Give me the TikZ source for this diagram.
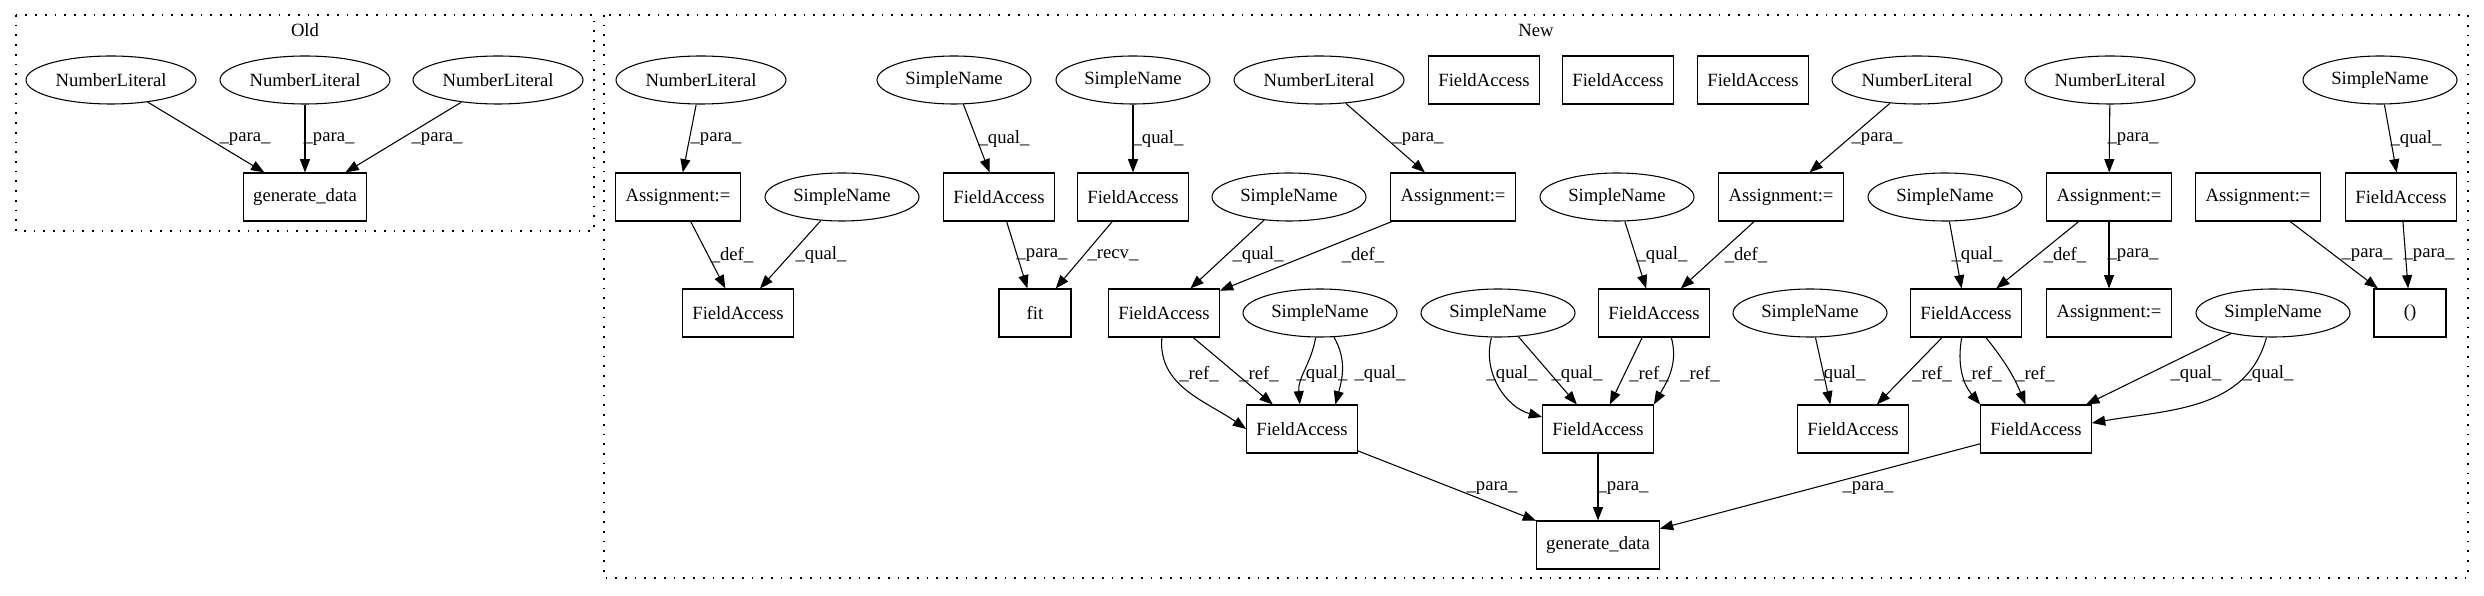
\documentclass[tikz,border=0pt]{standalone}
\usepackage{fontspec}
\setmainfont{Liberation Serif}
\usetikzlibrary{shapes.geometric,arrows.meta}

\begin{document}
\begin{tikzpicture}[x=0.75pt,y=0.75pt,
    font=\fontsize{14}{16}\selectfont,
    lit/.style={ellipse,draw,line width=0.8pt,minimum width=127.5pt,minimum height=36pt,inner sep=0pt},
    sname/.style={ellipse,draw,line width=0.8pt,minimum width=115.5pt,minimum height=36pt,inner sep=0pt},
    box/.style={rectangle,draw,line width=0.8pt,minimum height=36pt,inner sep=0pt},
    fa/.style={box,minimum width=83pt},
    asg/.style={box,minimum width=94pt},
    gen/.style={box,minimum width=92pt},
    small/.style={box,minimum width=54pt},
    lbl/.style={inner sep=0pt},
    arr/.style={-{Triangle[length=10pt,width=7.5pt]},line width=0.8pt},
    cluster/.style={line width=0.9pt,dash pattern=on 1.3pt off 6pt}]
    \useasboundingbox (0,0) rectangle (2484,596);

    % Clusters
    \draw[cluster] (16,581) rectangle (594,365);
    \node (oldTitle) at (305,566) {Old};
    \draw[cluster] (604,581) rectangle (2468,18);
    \node (newTitle) at (1536,566) {New};

    % Old
    \node[lit] (oLitA) at (111,516) {NumberLiteral};
    \node[lit] (oLitB) at (305,516) {NumberLiteral};
    \node[lit] (oLitC) at (498,516) {NumberLiteral};
    \node[gen] (oGen) at (305,399) {generate\_data};

    \draw[arr] (oLitA) -- (oGen) node[lbl] at (245,457) {\_para\_};
    \draw[arr] (oLitB) -- (oGen) node[lbl] at (329,457) {\_para\_};
    \draw[arr] (oLitC) -- (oGen) node[lbl] at (437,457) {\_para\_};

    % New - first row
    \node[lit] (litA) at (701,516) {NumberLiteral};
    \node[sname] (snA) at (954,516) {SimpleName};
    \node[sname] (snB) at (1133,516) {SimpleName};
    \node[lit] (litB) at (1319,516) {NumberLiteral};
    \node[fa] (faA1) at (1484,516) {FieldAccess};
    \node[fa] (faA2) at (1618,516) {FieldAccess};
    \node[fa] (faA3) at (1753,516) {FieldAccess};
    \node[lit] (litC) at (1917,516) {NumberLiteral};
    \node[lit] (litD) at (2110,516) {NumberLiteral};
    \node[sname] (snC) at (2380,516) {SimpleName};

    % second row
    \node[asg] (asgA) at (678,399) {Assignment:=};
    \node[sname] (snD) at (842,399) {SimpleName};
    \node[fa] (faB) at (999,399) {FieldAccess};
    \node[fa] (faC) at (1133,399) {FieldAccess};
    \node[sname] (snE) at (1289,399) {SimpleName};
    \node[asg] (asgB) at (1453,399) {Assignment:=};
    \node[sname] (snF) at (1617,399) {SimpleName};
    \node[asg] (asgC) at (1781,399) {Assignment:=};
    \node[sname] (snG) at (1945,399) {SimpleName};
    \node[asg] (asgD) at (2109,399) {Assignment:=};
    \node[asg] (asgE) at (2258,399) {Assignment:=};
    \node[fa] (faD) at (2401,399) {FieldAccess};

    % third row
    \node[fa] (faE) at (738,283) {FieldAccess};
    \node[small] (fit) at (1035,283) {fit};
    \node[fa] (faF) at (1164,283) {FieldAccess};
    \node[sname] (snH) at (1320,283) {SimpleName};
    \node[sname] (snI) at (1498,283) {SimpleName};
    \node[fa] (faG) at (1654,283) {FieldAccess};
    \node[sname] (snJ) at (1810,283) {SimpleName};
    \node[fa] (faH) at (1966,283) {FieldAccess};
    \node[asg] (asgF) at (2109,283) {Assignment:=};
    \node[sname] (snK) at (2273,283) {SimpleName};
    \node[small] (paren) at (2410,283) {()};

    % fourth and fifth row
    \node[fa] (faI) at (1302,167) {FieldAccess};
    \node[fa] (faJ) at (1598,167) {FieldAccess};
    \node[fa] (faK) at (1853,167) {FieldAccess};
    \node[fa] (faL) at (2036,167) {FieldAccess};
    \node[gen] (gen) at (1598,51) {generate\_data};

    % Edges row 1 -> row 2
    \draw[arr] (litA) -- (asgA) node[lbl] at (716,457) {\_para\_};
    \draw[arr] (snA) -- (faB) node[lbl] at (1004,457) {\_qual\_};
    \draw[arr] (snB) -- (faC) node[lbl] at (1158,457) {\_qual\_};
    \draw[arr] (litB) -- (asgB) node[lbl] at (1418,457) {\_para\_};
    \draw[arr] (litC) -- (asgC) node[lbl] at (1877,457) {\_para\_};
    \draw[arr] (litD) -- (asgD) node[lbl] at (2133,457) {\_para\_};
    \draw[arr] (snC) -- (faD) node[lbl] at (2416,457) {\_qual\_};

    % Edges row 2 -> row 3
    \draw[arr] (asgA) -- (faE) node[lbl] at (732,341) {\_def\_};
    \draw[arr] (snD) -- (faE) node[lbl] at (821,341) {\_qual\_};
    \draw[arr] (faB) -- (fit) node[lbl] at (1042,341) {\_para\_};
    \draw[arr] (faC) -- (fit) node[lbl] at (1113,341) {\_recv\_};
    \draw[arr] (snE) -- (faF) node[lbl] at (1258,341) {\_qual\_};
    \draw[arr] (asgB) -- (faF) node[lbl] at (1363,341) {\_def\_};
    \draw[arr] (snF) -- (faG) node[lbl] at (1662,341) {\_qual\_};
    \draw[arr] (asgC) -- (faG) node[lbl] at (1746,341) {\_def\_};
    \draw[arr] (snG) -- (faH) node[lbl] at (1977,341) {\_qual\_};
    \draw[arr] (asgD) -- (faH) node[lbl] at (2065,341) {\_def\_};
    \draw[arr] (asgD) -- (asgF) node[lbl] at (2133,341) {\_para\_};
    \draw[arr] (asgE) -- (paren) node[lbl] at (2367,341) {\_para\_};
    \draw[arr] (faD) -- (paren) node[lbl] at (2429,341) {\_para\_};

    % Edges row 3 -> row 4
    \draw[arr] (faF) to[out=-95,in=145] (faI.west) node[lbl] at (1199,222) {\_ref\_};
    \draw[arr] (faF) -- (faI) node[lbl] at (1259,222) {\_ref\_};
    \draw[arr] (snH) to[out=-100,in=95] (faI) node[lbl] at (1322,222) {\_qual\_};
    \draw[arr] (snH) to[out=-60,in=75] ([xshift=25pt]faI.north) node[lbl] at (1380,222) {\_qual\_};
    \draw[arr] (snI) to[out=-105,in=165] ([yshift=9pt]faJ.west) node[lbl] at (1512,222) {\_qual\_};
    \draw[arr] (snI) -- (faJ) node[lbl] at (1577,222) {\_qual\_};
    \draw[arr] (faG) -- (faJ) node[lbl] at (1649,222) {\_ref\_};
    \draw[arr] ([xshift=13pt]faG.south) to[out=-75,in=60] (faJ.north east) node[lbl] at (1700,222) {\_ref\_};
    \draw[arr] (snJ) -- ([xshift=-17pt]faK.north) node[lbl] at (1840,222) {\_qual\_};
    \draw[arr] (faH) -- (faK) node[lbl] at (1932,222) {\_ref\_};
    \draw[arr] (faH) to[out=-100,in=130] (faL.north west) node[lbl] at (1982,222) {\_ref\_};
    \draw[arr] (faH) to[bend left=8] (faL) node[lbl] at (2035,222) {\_ref\_};
    \draw[arr] (snK) -- (faL) node[lbl] at (2196,222) {\_qual\_};
    \draw[arr] (snK) to[out=-105,in=10] ([yshift=4.5pt]faL.east) node[lbl] at (2268,222) {\_qual\_};

    % Edges row 4 -> generate_data
    \draw[arr] (faI) -- (gen) node[lbl] at (1492,108) {\_para\_};
    \draw[arr] (faJ) -- (gen) node[lbl] at (1623,108) {\_para\_};
    \draw[arr] (faL) -- (gen) node[lbl] at (1868,108) {\_para\_};
\end{tikzpicture}
\end{document}
